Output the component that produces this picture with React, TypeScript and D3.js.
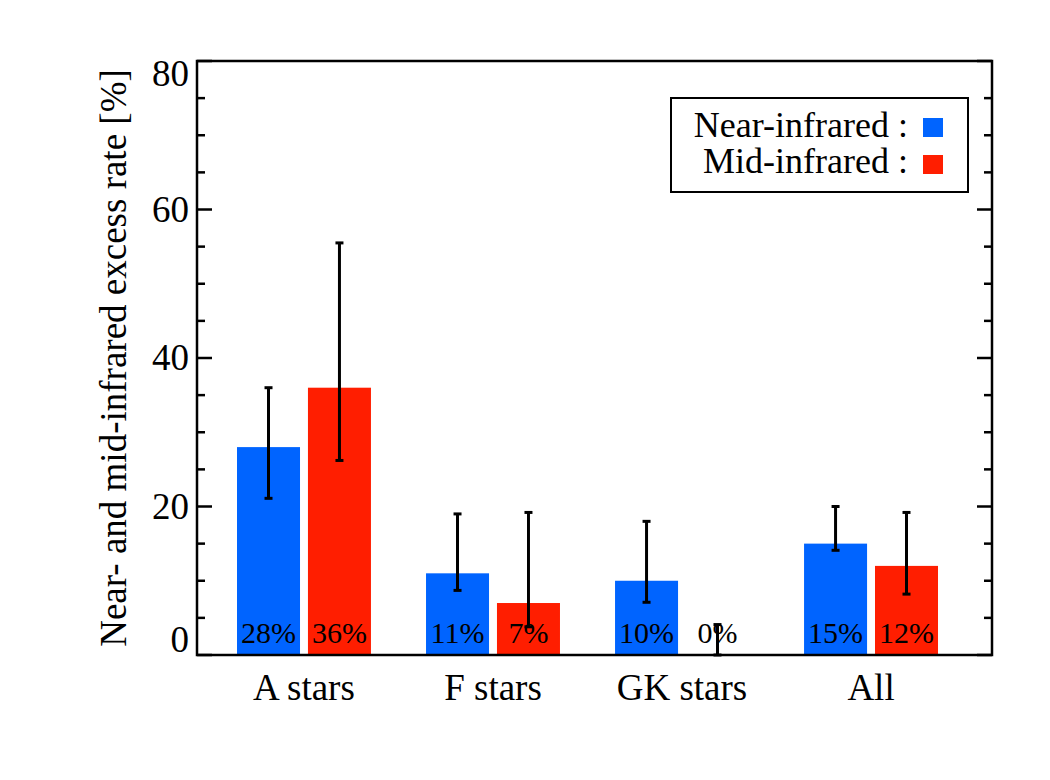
import React from 'react';
import * as d3 from 'd3';

// Infrared excess rates per stellar type (percent)
const categories = ['A stars', 'F stars', 'GK stars', 'All'];
const nearRate = [28, 11, 10, 15];
const midRate = [36, 7, 0, 12];
// Error bar extents (percent)
const nearLow = [21.1, 8.7, 7.1, 14.1];
const nearHigh = [36.0, 19.0, 18.0, 20.0];
const midLow = [26.2, 3.8, 0, 8.2];
const midHigh = [55.5, 19.2, 4.1, 19.2];
const yMajorTicks = [0, 20, 40, 60, 80];
const seriesNames = ['Near-infrared :', 'Mid-infrared :'];

const BLUE = '#0064FF';
const RED = '#FF1E00';
const FONT = '"Liberation Serif", "DejaVu Serif", Times, serif';

const W = 1050;
const H = 780;
const plot = { left: 197, right: 992, top: 61, bottom: 655 };

export default function App() {
  const y = d3.scaleLinear().domain([0, 80]).range([plot.bottom, plot.top]);
  const x = d3.scaleLinear().domain([-0.566, 3.64]).range([plot.left, plot.right]);
  const barW = 1 / 3;
  const gap = 0.021;
  const minorTicks = d3.range(0, 81, 5).filter((v) => !yMajorTicks.includes(v));

  const series = [
    { vals: nearRate, lo: nearLow, hi: nearHigh, color: BLUE, offset: -gap - barW },
    { vals: midRate, lo: midLow, hi: midHigh, color: RED, offset: gap },
  ];

  const labelBaseline = (v: number) => {
    if (v === 80) return y(v) + 25;
    if (v === 0) return y(v) - 3;
    return y(v) + 12;
  };

  return (
    <svg width={W} height={H} style={{ position: 'absolute', left: 0, top: 0, background: '#fff' }} fontFamily={FONT}>
      <rect x={0} y={0} width={W} height={H} fill="#fff" />

      {/* bars */}
      {series.map((s, si) =>
        s.vals.map((v, i) => (
          <rect
            key={`b${si}-${i}`}
            x={x(i + s.offset)}
            width={x(i + s.offset + barW) - x(i + s.offset)}
            y={y(v)}
            height={y(0) - y(v)}
            fill={s.color}
          />
        ))
      )}

      {/* value labels */}
      {series.map((s, si) =>
        s.vals.map((v, i) => (
          <text
            key={`l${si}-${i}`}
            x={x(i + s.offset + barW / 2)}
            y={plot.bottom - 12}
            textAnchor="middle"
            fontSize={30}
            fill="#000"
          >
            {`${v}%`}
          </text>
        ))
      )}

      {/* error bars */}
      {series.map((s, si) =>
        s.vals.map((_, i) => {
          const cx = x(i + s.offset + barW / 2);
          const capHalf = 4;
          return (
            <g key={`e${si}-${i}`} stroke="#000" strokeWidth={3}>
              <line x1={cx} x2={cx} y1={y(s.lo[i])} y2={y(s.hi[i])} />
              <line x1={cx - capHalf} x2={cx + capHalf} y1={y(s.hi[i])} y2={y(s.hi[i])} />
              <line x1={cx - capHalf} x2={cx + capHalf} y1={y(s.lo[i])} y2={y(s.lo[i])} />
            </g>
          );
        })
      )}

      {/* frame */}
      <rect
        x={plot.left}
        y={plot.top}
        width={plot.right - plot.left}
        height={plot.bottom - plot.top}
        fill="none"
        stroke="#000"
        strokeWidth={2.5}
      />

      {/* y ticks on both sides */}
      {yMajorTicks.map((v) => (
        <g key={`M${v}`} stroke="#000" strokeWidth={2.5}>
          <line x1={plot.left} x2={plot.left + 15} y1={y(v)} y2={y(v)} />
          <line x1={plot.right} x2={plot.right - 15} y1={y(v)} y2={y(v)} />
        </g>
      ))}
      {minorTicks.map((v) => (
        <g key={`m${v}`} stroke="#000" strokeWidth={2.5}>
          <line x1={plot.left} x2={plot.left + 8} y1={y(v)} y2={y(v)} />
          <line x1={plot.right} x2={plot.right - 8} y1={y(v)} y2={y(v)} />
        </g>
      ))}

      {/* y tick labels */}
      {yMajorTicks.map((v) => (
        <text key={`t${v}`} x={plot.left - 8} y={labelBaseline(v)} textAnchor="end" fontSize={37} fill="#000">
          {v}
        </text>
      ))}

      {/* category labels */}
      {categories.map((c, i) => (
        <text key={c} x={x(i)} y={700} textAnchor="middle" fontSize={37} fill="#000">
          {c}
        </text>
      ))}

      {/* y axis title */}
      <text
        transform={`translate(126, ${(plot.top + plot.bottom) / 2}) rotate(-90)`}
        textAnchor="middle"
        fontSize={37}
        fill="#000"
      >
        Near- and mid-infrared excess rate [%]
      </text>

      {/* legend */}
      <g>
        <rect x={671} y={98} width={297} height={94} fill="#fff" stroke="#000" strokeWidth={2} />
        {seriesNames.map((n, i) => (
          <g key={n}>
            <text x={908} y={137 + i * 36} textAnchor="end" fontSize={36} fill="#000">
              {n}
            </text>
            <rect x={923} y={118 + i * 37} width={20} height={19} fill={i === 0 ? BLUE : RED} />
          </g>
        ))}
      </g>
    </svg>
  );
}
